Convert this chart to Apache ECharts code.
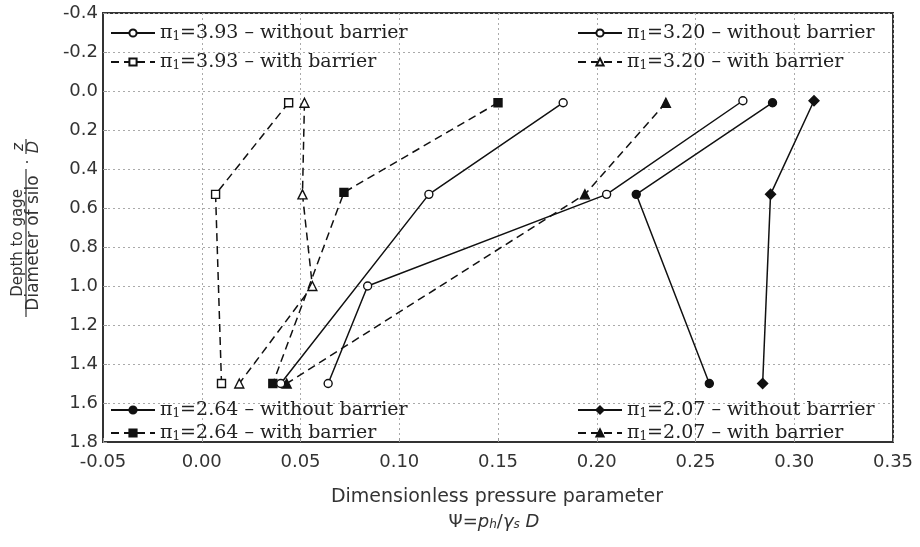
<!DOCTYPE html>
<html>
<head>
<meta charset="utf-8">
<script src="https://cdn.jsdelivr.net/npm/echarts@6/dist/echarts.min.js"></script>
<style>
  html, body { margin: 0; padding: 0; background: #fff; }
  #chart { width: 920px; height: 547px; }
</style>
</head>
<body>
<div id="chart"></div>
<script>
// Dimensionless pressure parameter Ψ versus relative gage depth z/D
const xTicks = { min: -0.05, max: 0.35, step: 0.05 };
const yTicks = { min: -0.4, max: 1.8, step: 0.2 };

// π1 = 3.93
const depth393Without = [0.06, 0.53, 1.50];
const psi393Without   = [0.183, 0.115, 0.040];
const depth393With    = [0.06, 0.53, 1.50];
const psi393With      = [0.044, 0.007, 0.010];

// π1 = 3.20
const depth320Without = [0.05, 0.53, 1.00, 1.50];
const psi320Without   = [0.274, 0.205, 0.084, 0.064];
const depth320With    = [0.06, 0.53, 1.00, 1.50];
const psi320With      = [0.052, 0.051, 0.056, 0.019];

// π1 = 2.64
const depth264Without = [0.06, 0.53, 1.50];
const psi264Without   = [0.289, 0.220, 0.257];
const depth264With    = [0.06, 0.52, 1.50];
const psi264With      = [0.150, 0.072, 0.036];

// π1 = 2.07
const depth207Without = [0.05, 0.53, 1.50];
const psi207Without   = [0.310, 0.288, 0.284];
const depth207With    = [0.06, 0.53, 1.50];
const psi207With      = [0.235, 0.194, 0.043];

const seriesNames = {
  s393n: 'π1=3.93 – without barrier',
  s393b: 'π1=3.93 – with barrier',
  s320n: 'π1=3.20 – without barrier',
  s320b: 'π1=3.20 – with barrier',
  s264n: 'π1=2.64 – without barrier',
  s264b: 'π1=2.64 – with barrier',
  s207n: 'π1=2.07 – without barrier',
  s207b: 'π1=2.07 – with barrier'
};

const INK = '#111';
const zip = (xs, ys) => xs.map((x, i) => [x, ys[i]]);

function makeSeries(name, xs, ys, symbol, filled, dashed, size) {
  return {
    name: name,
    type: 'line',
    data: zip(xs, ys),
    symbol: symbol,
    symbolSize: size,
    showAllSymbol: true,
    lineStyle: { color: INK, width: 1.5, type: dashed ? [8, 5] : 'solid' },
    itemStyle: { color: filled ? INK : '#fff', borderColor: INK, borderWidth: 1.4 },
    emphasis: { disabled: true },
    animation: false,
    z: filled ? 3 : 4
  };
}

const series = [
  makeSeries(seriesNames.s393n, psi393Without, depth393Without, 'circle', false, false, 8),
  makeSeries(seriesNames.s393b, psi393With, depth393With, 'rect', false, true, 8),
  makeSeries(seriesNames.s320n, psi320Without, depth320Without, 'circle', false, false, 8),
  makeSeries(seriesNames.s320b, psi320With, depth320With, 'triangle', false, true, 9),
  makeSeries(seriesNames.s264n, psi264Without, depth264Without, 'circle', true, false, 8),
  makeSeries(seriesNames.s264b, psi264With, depth264With, 'rect', true, true, 8),
  makeSeries(seriesNames.s207n, psi207Without, depth207Without, 'diamond', true, false, 10),
  makeSeries(seriesNames.s207b, psi207With, depth207With, 'triangle', true, true, 9)
];

const serif = '"DejaVu Serif", "Liberation Serif", serif';
const sans = '"DejaVu Sans", "Liberation Sans", sans-serif';

const legendRich = {
  g: { fontFamily: serif, fontSize: 19, color: '#222', lineHeight: 20, verticalAlign: 'bottom' },
  sub: { fontFamily: serif, fontSize: 12, color: '#222', lineHeight: 6, verticalAlign: 'bottom' }
};
function legendText(name) {
  return '{g|π}{sub|1}{g|' + name.slice(2) + '}';
}
function makeLegend(names, left, top, gap) {
  return {
    data: names,
    orient: 'vertical',
    left: left,
    top: top,
    itemWidth: 44,
    itemHeight: 9,
    itemGap: gap,
    padding: 0,
    selectedMode: false,
    formatter: legendText,
    textStyle: { rich: legendRich, padding: [0, 0, 0, 0] },
    inactiveColor: INK
  };
}

const chart = echarts.init(document.getElementById('chart'), null, { renderer: 'canvas' });

const option = {
  backgroundColor: '#fff',
  animation: false,
  grid: {
    left: 103, right: 27, top: 13, bottom: 105,
    show: true, borderColor: '#333', borderWidth: 2, backgroundColor: 'transparent'
  },
  xAxis: {
    type: 'value',
    min: xTicks.min, max: xTicks.max, interval: xTicks.step,
    axisLine: { show: true, onZero: false, lineStyle: { color: '#333', width: 2 } },
    axisTick: { show: true, inside: true, length: 4, lineStyle: { color: '#999' } },
    axisLabel: {
      fontFamily: sans, fontSize: 18, color: '#333', margin: 11,
      formatter: v => v.toFixed(2)
    },
    splitLine: { show: true, lineStyle: { color: '#aaa', type: [2, 3], width: 1 } }
  },
  yAxis: {
    type: 'value',
    inverse: true,
    min: yTicks.min, max: yTicks.max, interval: yTicks.step,
    axisLine: { show: true, onZero: false, lineStyle: { color: '#333', width: 2 } },
    axisTick: { show: true, inside: true, length: 4, lineStyle: { color: '#999' } },
    axisLabel: {
      fontFamily: sans, fontSize: 18, color: '#333', margin: 5,
      formatter: v => v.toFixed(1)
    },
    splitLine: { show: true, lineStyle: { color: '#aaa', type: [2, 3], width: 1 } }
  },
  legend: [
    makeLegend([seriesNames.s393n, seriesNames.s393b], 110, 24, 10),
    makeLegend([seriesNames.s320n, seriesNames.s320b], 577, 24, 10),
    makeLegend([seriesNames.s264n, seriesNames.s264b], 110, 401, 4),
    makeLegend([seriesNames.s207n, seriesNames.s207b], 577, 401, 4)
  ],
  graphic: [
    {
      type: 'group',
      x: 26, y: 243,
      rotation: Math.PI / 2,
      children: [
        { type: 'text', x: 0, y: -8, style: { text: 'Depth to gage', font: '15px ' + sans, fill: '#333', align: 'center', verticalAlign: 'middle' } },
        { type: 'line', shape: { x1: -74, y1: 0, x2: 74, y2: 0 }, style: { stroke: '#333', lineWidth: 1.2 } },
        { type: 'text', x: 0, y: 8, style: { text: 'Diameter of silo', font: '17px ' + sans, fill: '#333', align: 'center', verticalAlign: 'middle' } },
        { type: 'text', x: 81, y: 3, style: { text: '·', font: '16px ' + sans, fill: '#333', align: 'center', verticalAlign: 'middle' } },
        { type: 'text', x: 96, y: -7, style: { text: 'z', font: 'italic 15px ' + sans, fill: '#333', align: 'center', verticalAlign: 'middle' } },
        { type: 'line', shape: { x1: 89, y1: 0, x2: 104, y2: 0 }, style: { stroke: '#333', lineWidth: 1.2 } },
        { type: 'text', x: 96, y: 8, style: { text: 'D', font: 'italic 16px ' + sans, fill: '#333', align: 'center', verticalAlign: 'middle' } }
      ]
    },
    {
      type: 'text',
      x: 497,
      y: 497,
      style: {
        text: 'Dimensionless pressure parameter',
        font: '19px ' + sans, fill: '#333', align: 'center', verticalAlign: 'middle'
      }
    },
    {
      type: 'text',
      x: 494,
      y: 511,
      style: {
        text: '{n|Ψ=}{i|p}{s|h}{n|/}{i|γ}{s|s}{i| D}',
        align: 'center',
        rich: {
          n: { fontFamily: sans, fontSize: 18, fill: '#333', lineHeight: 20, verticalAlign: 'bottom' },
          i: { fontFamily: sans, fontStyle: 'italic', fontSize: 18, fill: '#333', lineHeight: 20, verticalAlign: 'bottom' },
          s: { fontFamily: sans, fontStyle: 'italic', fontSize: 12, fill: '#333', lineHeight: 6, verticalAlign: 'bottom' }
        }
      }
    }
  ],
  series: series
};

chart.setOption(option);
</script>
</body>
</html>
